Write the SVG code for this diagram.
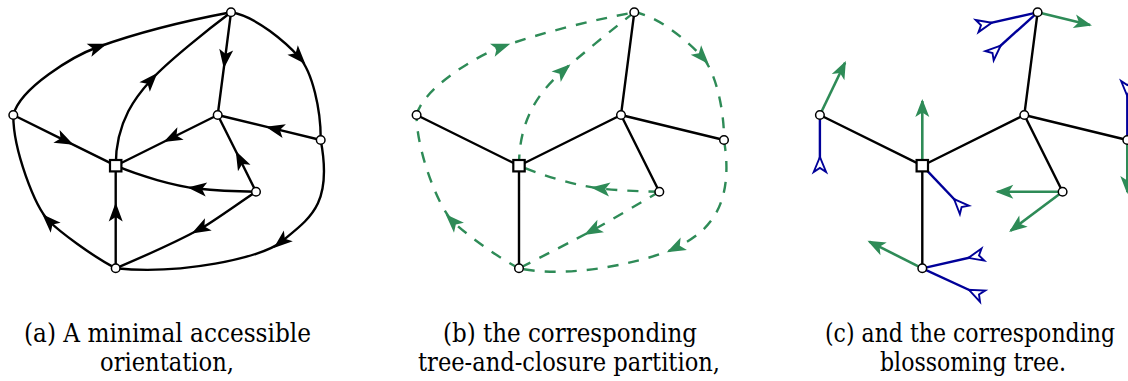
<svg xmlns="http://www.w3.org/2000/svg" width="1128" height="381" viewBox="0 0 1128 381">
  <style>
    .ea{fill:none;stroke:#000;stroke-width:2.4;marker-mid:url(#midBlack)}
    .t{fill:none;stroke:#000;stroke-width:2.4}
    .cl{fill:none;stroke:#2e8b57;stroke-width:2.4;stroke-dasharray:11 10;marker-mid:url(#midGreen)}
    .sg{fill:none;stroke:#2e8b57;stroke-width:2.6;marker-end:url(#endGreen)}
    .sb{fill:none;stroke:#000099;stroke-width:2.4;marker-start:url(#openBlue)}
    .v{fill:#fff;stroke:#000;stroke-width:1.5}
    .sq{fill:#fff;stroke:#000;stroke-width:2.2}
    .cap{font-family:"DejaVu Serif","Liberation Serif",serif;font-size:26px;text-anchor:middle;fill:#000}
  </style>
  <defs>
    <marker id="midBlack" viewBox="-11 -9 22 18" markerWidth="22" markerHeight="18" refX="0" refY="0" orient="auto" markerUnits="userSpaceOnUse">
      <path d="M9.5,0 L-9.5,-7 L-5,0 L-9.5,7 Z" fill="#000" stroke="none"/>
    </marker>
    <marker id="midGreen" viewBox="-11 -9 22 18" markerWidth="22" markerHeight="18" refX="0" refY="0" orient="auto" markerUnits="userSpaceOnUse">
      <path d="M9.5,0 L-9.5,-7 L-5,0 L-9.5,7 Z" fill="#2e8b57" stroke="none"/>
    </marker>
    <marker id="endGreen" viewBox="-18 -9 22 18" markerWidth="22" markerHeight="18" refX="0" refY="0" orient="auto" markerUnits="userSpaceOnUse">
      <path d="M2,0 L-16,-7 L-11.5,0 L-16,7 Z" fill="#2e8b57" stroke="none"/>
    </marker>
    <marker id="openBlue" viewBox="-7 -9 20 18" markerWidth="20" markerHeight="18" refX="0" refY="0" orient="auto" markerUnits="userSpaceOnUse">
      <path d="M11,0 L-4,-6.2 L0,0 L-4,6.2 Z" fill="#fff" stroke="#000099" stroke-width="1.9" stroke-linejoin="miter"/>
    </marker>
  </defs>

  <!-- (a) oriented map -->
  <g id="panel-a">
    <g id="a-connectors">
      <path class="ea" d="M13.3,115 C20,88 73,56 98,47 C138,32.6 190,20 231,12.3"/>
      <path class="ea" d="M115.7,165.7 C115.7,120 137.6,94.8 151,80 C167.8,61.5 210,28 231,12.3"/>
      <path class="ea" d="M231,12.3 L225,59 L217.7,115"/>
      <path class="ea" d="M231,12.3 C256,16 287,43.7 299,57 C312.4,71.8 321,110 320.7,140"/>
      <path class="ea" d="M320.7,140 L275,128.9 L217.7,115"/>
      <path class="ea" d="M217.7,115 L172,137.7 L115.7,165.7"/>
      <path class="ea" d="M13.3,115 L65,140.6 L115.7,165.7"/>
      <path class="ea" d="M256,191.7 C240,191.5 215,190.5 197,188.5 C175,186.1 140,176 115.7,165.7"/>
      <path class="ea" d="M256,191.7 L240,159.5 L217.7,115"/>
      <path class="ea" d="M256,191.7 C243,200 213.1,221.8 200,229 C182.5,238.6 140,258 115.7,268.3"/>
      <path class="ea" d="M115.7,268.3 L115.7,212 L115.7,165.7"/>
      <path class="ea" d="M115.7,268.3 C92,256 59.5,231.6 49,221 C35,206.8 13,150 13.3,115"/>
      <path class="ea" d="M320.7,140 C333,205 310,218 281,242 C261.75,258 180,275 115.7,268.3"/>
    </g>
    <g id="a-T"><circle class="v" cx="231" cy="12.3" r="4.3"/></g>
    <g id="a-L"><circle class="v" cx="13.3" cy="115" r="4.3"/></g>
    <g id="a-I"><circle class="v" cx="217.7" cy="115" r="4.3"/></g>
    <g id="a-R"><circle class="v" cx="320.7" cy="140" r="4.3"/></g>
    <g id="a-J"><circle class="v" cx="256" cy="191.7" r="4.3"/></g>
    <g id="a-B"><circle class="v" cx="115.7" cy="268.3" r="4.3"/></g>
    <g id="a-root"><rect class="sq" x="110" y="160" width="11.4" height="11.4"/></g>
  </g>

  <!-- (b) spanning tree with closure edges -->
  <g id="panel-b" transform="translate(403.3,0)">
    <g id="b-connectors">
      <path class="cl" d="M13.3,115 C20,88 73,56 98,47 C138,32.6 190,20 231,12.3"/>
      <path class="cl" d="M115.7,165.7 C115.7,115 140,88 160,70.5 C180,53 212,27 231,12.3"/>
      <path class="cl" d="M231,12.3 C256,16 287,43.7 299,57 C312.4,71.8 321,110 320.7,140"/>
      <path class="cl" d="M320.7,140 C333,215 296,236 272,248 C249.75,259.25 170,280 115.7,268.3"/>
      <path class="cl" d="M256,191.7 C240,191.5 215,190.5 197,188.5 C175,186.1 140,176 115.7,165.7"/>
      <path class="cl" d="M256,191.7 C240,201 203.1,223 189,230.5 C171.4,239.9 140,256 115.7,268.3"/>
      <path class="cl" d="M115.7,268.3 C92,256 59.5,231.6 49,221 C35,206.8 13,150 13.3,115"/>
      <path class="t" d="M13.3,115 L115.7,165.7 L217.7,115 L231,12.3 M217.7,115 L320.7,140 M217.7,115 L256,191.7 M115.7,165.7 L115.7,268.3"/>
    </g>
    <g id="b-T"><circle class="v" cx="231" cy="12.3" r="4.3"/></g>
    <g id="b-L"><circle class="v" cx="13.3" cy="115" r="4.3"/></g>
    <g id="b-I"><circle class="v" cx="217.7" cy="115" r="4.3"/></g>
    <g id="b-R"><circle class="v" cx="320.7" cy="140" r="4.3"/></g>
    <g id="b-J"><circle class="v" cx="256" cy="191.7" r="4.3"/></g>
    <g id="b-B"><circle class="v" cx="115.7" cy="268.3" r="4.3"/></g>
    <g id="b-root"><rect class="sq" x="110" y="160" width="11.4" height="11.4"/></g>
  </g>

  <!-- (c) blossoming tree: opening stems in green, closing stems in blue -->
  <g id="panel-c" transform="translate(806.6,0)">
    <g id="c-connectors">
      <path class="t" d="M13.3,115 L115.7,165.7 L217.7,115 L231,12.3 M217.7,115 L320.7,140 M217.7,115 L256,191.7 M115.7,165.7 L115.7,268.3"/>
      <path class="sg" d="M231,12.3 L283.4,25"/>
      <path class="sg" d="M13.3,115 L38.4,62.7"/>
      <path class="sg" d="M115.7,160 L115.7,101"/>
      <path class="sg" d="M115.7,268.3 L62.7,241.7"/>
      <path class="sg" d="M256,191.7 L190.7,191.7"/>
      <path class="sg" d="M256,191.7 L204.1,230.7"/>
      <path class="sg" d="M320.7,140 L320.7,192"/>
      <path class="sb" d="M174.4,25.2 L231,12.3"/>
      <path class="sb" d="M185.9,53 L231,12.3"/>
      <path class="sb" d="M13.3,168 L13.3,115"/>
      <path class="sb" d="M155,207 L115.7,165.7"/>
      <path class="sb" d="M172.4,255.5 L115.7,268.3"/>
      <path class="sb" d="M172.4,294.5 L115.7,268.3"/>
      <path class="sb" d="M320.7,85 L320.7,140"/>
    </g>
    <g id="c-T"><circle class="v" cx="231" cy="12.3" r="4.3"/></g>
    <g id="c-L"><circle class="v" cx="13.3" cy="115" r="4.3"/></g>
    <g id="c-I"><circle class="v" cx="217.7" cy="115" r="4.3"/></g>
    <g id="c-R"><circle class="v" cx="320.7" cy="140" r="4.3"/></g>
    <g id="c-J"><circle class="v" cx="256" cy="191.7" r="4.3"/></g>
    <g id="c-B"><circle class="v" cx="115.7" cy="268.3" r="4.3"/></g>
    <g id="c-root"><rect class="sq" x="110" y="160" width="11.4" height="11.4"/></g>
  </g>

  <!-- captions -->
  <g id="captions">
    <text class="cap" x="167.5" y="342" textLength="287" lengthAdjust="spacingAndGlyphs">(a) A minimal accessible</text>
    <text class="cap" x="167" y="371" textLength="134" lengthAdjust="spacingAndGlyphs">orientation,</text>
    <text class="cap" x="570" y="342" textLength="254" lengthAdjust="spacingAndGlyphs">(b) the corresponding</text>
    <text class="cap" x="569" y="371" textLength="302" lengthAdjust="spacingAndGlyphs">tree-and-closure partition,</text>
    <text class="cap" x="970" y="342" textLength="290" lengthAdjust="spacingAndGlyphs">(c) and the corresponding</text>
    <text class="cap" x="973" y="371" textLength="186" lengthAdjust="spacingAndGlyphs">blossoming tree.</text>
  </g>
</svg>
